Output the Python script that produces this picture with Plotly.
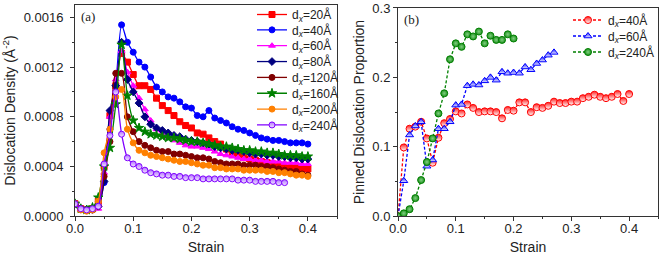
import plotly.graph_objects as go

# ---------------- data ----------------
strain = [0.00, 0.01, 0.02, 0.03, 0.04, 0.05, 0.06, 0.07, 0.08, 0.09,
          0.10, 0.11, 0.12, 0.13, 0.14, 0.15, 0.16, 0.17, 0.18, 0.19,
          0.20, 0.21, 0.22, 0.23, 0.24, 0.25, 0.26, 0.27, 0.28, 0.29,
          0.30, 0.31, 0.32, 0.33, 0.34, 0.35, 0.36, 0.37, 0.38, 0.39, 0.40]

# Panel (a): dislocation density (1/Å^2)
dens_20 = [0.0001, 0.00006, 0.00005, 0.00006, 0.00012, 0.0004, 0.00081, 0.00105, 0.00131, 0.00124,
           0.00114, 0.00105, 0.00105, 0.00102, 0.00095, 0.00089, 0.00085, 0.00081, 0.00076, 0.00073,
           0.00071, 0.00067, 0.00066, 0.00063, 0.00060, 0.00058, 0.00054, 0.00051, 0.00049, 0.00047,
           0.00046, 0.00045, 0.00044, 0.00043, 0.00042, 0.00041, 0.00041, 0.00040, 0.00039, 0.00038, 0.00038]
dens_40 = [0.0001, 0.00006, 0.00005, 0.00005, 0.00008, 0.00027, 0.0007, 0.00105, 0.00154, 0.0014,
           0.00132, 0.00124, 0.0012, 0.00112, 0.00104, 0.001, 0.00096, 0.00095, 0.00092, 0.00088,
           0.00087, 0.00081, 0.0008, 0.00085, 0.00079, 0.00077, 0.00075, 0.00072, 0.0007, 0.00069,
           0.00067, 0.00065, 0.00063, 0.00062, 0.00061, 0.00061, 0.0006, 0.00059, 0.00059, 0.00059, 0.00058]
dens_60 = [0.0001, 0.00006, 0.00005, 0.00005, 0.00006, 0.00035, 0.0008, 0.0011, 0.00133, 0.00116,
           0.00105, 0.00095, 0.00086, 0.00077, 0.0007, 0.00066, 0.00063, 0.00061, 0.00059, 0.00057,
           0.00056, 0.00056, 0.00055, 0.00054, 0.00052, 0.0005, 0.00049, 0.00048, 0.00047, 0.00046,
           0.00046, 0.00045, 0.00045, 0.00044, 0.00044, 0.00044, 0.00043, 0.00043, 0.00043, 0.00042, 0.00042]
dens_80 = [0.0001, 0.00006, 0.00005, 0.00006, 0.00008, 0.00028, 0.00085, 0.00105, 0.0014, 0.0011,
           0.001, 0.00091, 0.0008, 0.00074, 0.00071, 0.00069, 0.00067, 0.00065, 0.00064, 0.00062,
           0.00061, 0.0006, 0.00059, 0.00058, 0.00056, 0.00055, 0.00054, 0.00053, 0.00053, 0.00052,
           0.00051, 0.0005, 0.0005, 0.00049, 0.00049, 0.00048, 0.00048, 0.00047, 0.00047, 0.00046, 0.00046]
dens_120 = [0.0001, 0.00006, 0.00005, 0.00005, 0.00008, 0.00032, 0.0006, 0.00115, 0.00115, 0.0008,
            0.00068, 0.0006, 0.00057, 0.00055, 0.00053, 0.00052, 0.00052, 0.0005, 0.0005, 0.00049,
            0.00048, 0.00047, 0.00047, 0.00046, 0.00044, 0.00043, 0.00042, 0.00042, 0.00042, 0.00041,
            0.00041, 0.00041, 0.0004, 0.0004, 0.00039, 0.00038, 0.00037, 0.00036, 0.00036, 0.00034, 0.00033]
dens_160 = [0.0001, 0.00006, 0.00005, 0.00007, 0.00015, 0.0004, 0.00055, 0.0009, 0.00138, 0.00097,
            0.00077, 0.00071, 0.00068, 0.00066, 0.00065, 0.00064, 0.00063, 0.00063, 0.00062, 0.00061,
            0.0006, 0.0006, 0.00059, 0.00058, 0.00057, 0.00056, 0.00056, 0.00055, 0.00054, 0.00053,
            0.00053, 0.00052, 0.00052, 0.00051, 0.00051, 0.0005, 0.00049, 0.00049, 0.00049, 0.00048, 0.00048]
dens_200 = [0.0001, 0.00005, 0.00004, 0.00005, 0.00012, 0.00051, 0.0007, 0.00096, 0.00102, 0.0007,
            0.00059, 0.00053, 0.00051, 0.00049, 0.00048, 0.00047, 0.00046, 0.00045, 0.00044, 0.00044,
            0.00043, 0.00042, 0.00041, 0.00041, 0.00039, 0.00039, 0.00038, 0.00038, 0.00038, 0.00037,
            0.00037, 0.00037, 0.00037, 0.00036, 0.00036, 0.00035, 0.00035, 0.00034, 0.00033, 0.00033, 0.00032]
dens_240 = [0.0001, 0.00006, 0.00005, 0.00006, 0.00008, 0.00042, 0.00065, 0.001, 0.00066, 0.00047,
            0.00042, 0.0004, 0.00037, 0.00035, 0.00034, 0.00033, 0.00033, 0.00032, 0.00032, 0.00031,
            0.00031, 0.00031, 0.0003, 0.0003, 0.0003, 0.0003, 0.0003, 0.0003, 0.00029, 0.00029,
            0.00029, 0.00028, 0.00028, 0.00028, 0.00028, 0.00027, 0.00027]

# Panel (b): pinned dislocation proportion
pin_40 = [0.0, 0.099, 0.126, 0.129, 0.136, 0.112, 0.077, 0.113, 0.134, 0.14,
          0.151, 0.148, 0.161, 0.156, 0.15, 0.151, 0.151, 0.15, 0.141, 0.153,
          0.152, 0.164, 0.164, 0.15, 0.157, 0.156, 0.159, 0.165, 0.163, 0.163,
          0.165, 0.165, 0.17, 0.172, 0.175, 0.172, 0.17, 0.172, 0.176, 0.166, 0.176]
pin_60 = [0.0, 0.051, 0.117, 0.13, 0.136, 0.072, 0.081, 0.126, 0.126, 0.136,
          0.16, 0.161, 0.188, 0.19, 0.189, 0.195, 0.2, 0.196, 0.208, 0.206,
          0.207, 0.206, 0.215, 0.211, 0.22, 0.225, 0.232, 0.236]
pin_240 = [0.0, 0.004, 0.01, 0.026, 0.052, 0.078, 0.112, 0.148, 0.177, 0.226,
           0.249, 0.244, 0.262, 0.259, 0.266, 0.249, 0.26, 0.254, 0.254, 0.262, 0.256]

labels_a = ["20", "40", "60", "80", "120", "160", "200", "240"]
labels_b = ["40", "60", "240"]

# ---------------- styles ----------------
FONT = "Arial, 'Liberation Sans', sans-serif"
W, H = 661, 255

# (values, line colour, symbol, fill colour, gradient colour or None)
styles_a = [
    (dens_20, "#FF0000", "square", "#FF0000", None),
    (dens_40, "#0000FF", "circle", "#0000FF", None),
    (dens_60, "#FF00FF", "triangle-up", "#FF00FF", None),
    (dens_80, "#000080", "diamond", "#000080", None),
    (dens_120, "#800000", "circle", "#800000", None),
    (dens_160, "#008000", "star", "#008000", None),
    (dens_200, "#FF8000", "circle", "#FF8000", None),
    (dens_240, "#8000FF", "circle", "#B070FF", "#F4E8FF"),
]
styles_b = [
    (pin_40, "#FF0000", "circle", "#FF2020", "#FFFFFF"),
    (pin_60, "#0000FF", "triangle-up", "#2020FF", "#E8E8FF"),
    (pin_240, "#008000", "circle", "#1F8F1F", "#7FD07F"),
]

fig = go.Figure()
legends = {}

def legend_box(x_px, yc_px):
    return dict(x=x_px / W, y=1 - yc_px / H, xanchor="left", yanchor="middle",
                bgcolor="rgba(0,0,0,0)", font=dict(family=FONT, size=12, color="#222"),
                itemwidth=30)

def make_marker(sym, size, fill, col, grad, gtype="vertical"):
    m = dict(symbol=sym, size=size, color=fill, line=dict(color=col, width=1))
    if grad:
        m["gradient"] = dict(type=gtype, color=grad)
    return m

for i, (lab, (vals, col, sym, fill, grad)) in enumerate(zip(labels_a, styles_a)):
    lname = "legend" if i == 0 else f"legend{i + 1}"
    legends[lname] = legend_box(252, 14 + i * 15.85)
    fig.add_trace(go.Scatter(
        x=strain[:len(vals)], y=vals, mode="lines+markers",
        name=f"d<sub><i>x</i></sub>={lab}Å",
        line=dict(color=col, width=1.3, shape="spline", smoothing=0.7),
        marker=make_marker(sym, 7 if sym == "star" else 6, fill, col, grad),
        xaxis="x", yaxis="y", legend=lname,
    ))

for j, (lab, (vals, col, sym, fill, grad)) in enumerate(zip(labels_b, styles_b)):
    lname = f"legend{len(labels_a) + j + 1}"
    legends[lname] = legend_box(568, 20 + j * 16)
    fig.add_trace(go.Scatter(
        x=strain[:len(vals)], y=vals, mode="lines+markers",
        name=f"d<sub><i>x</i></sub>={lab}Å",
        line=dict(color=col, width=1.3, dash="3px,2px"),
        marker=make_marker(sym, 7, fill, col, grad, "radial" if j == 2 else "vertical"),
        xaxis="x2", yaxis="y2", legend=lname,
    ))

def xax(domain, anchor):
    return dict(domain=domain, anchor=anchor, range=[0, 0.45], dtick=0.1, tickformat=".1f",
                ticks="outside", ticklen=4, tickwidth=1, tickcolor="#333",
                minor=dict(dtick=0.05, ticks="outside", ticklen=2, tickcolor="#333"),
                showline=True, linecolor="#333", linewidth=1, mirror=True,
                showgrid=False, zeroline=False, automargin=False,
                ticklabelstandoff=-4,
                tickfont=dict(family=FONT, size=13, color="#222"),
                title=dict(text="Strain", font=dict(family=FONT, size=14, color="#222"), standoff=7))

def yax(domain, anchor, rng, dtick, fmt, title, minor, lso, tso):
    return dict(domain=domain, anchor=anchor, range=rng, dtick=dtick, tickformat=fmt,
                ticks="outside", ticklen=4, tickwidth=1, tickcolor="#333",
                minor=dict(dtick=minor, ticks="outside", ticklen=2, tickcolor="#333"),
                showline=True, linecolor="#333", linewidth=1, mirror=True,
                showgrid=False, zeroline=False, automargin=False,
                ticklabelstandoff=lso,
                tickfont=dict(family=FONT, size=13, color="#222"),
                title=dict(text=title, font=dict(family=FONT, size=14, color="#222"), standoff=tso))

fig.update_layout(
    width=W, height=H, margin=dict(l=0, r=0, t=0, b=0),
    paper_bgcolor="white", plot_bgcolor="white",
    xaxis=xax([75 / W, 337 / W], "y"),
    yaxis=yax([1 - 216 / H, 1 - 4 / H], "x", [0, 0.0017], 0.0004, ".4f",
              "Dislocation Density (Å<sup>-2</sup>)", 0.0002, 4, 4),
    xaxis2=xax([398 / W, 658 / W], "y2"),
    yaxis2=yax([1 - 216 / H, 1 - 7 / H], "x2", [0, 0.3], 0.1, ".1f",
               "Pinned Dislocation Proportion", 0.05, 0, 4),
    showlegend=True,
    annotations=[
        dict(text="(a)", x=79 / W, y=1 - 6 / H, xref="paper", yref="paper",
             xanchor="left", yanchor="top", showarrow=False,
             font=dict(family="'Times New Roman', 'Liberation Serif', serif", size=13, color="#222")),
        dict(text="(b)", x=402 / W, y=1 - 9 / H, xref="paper", yref="paper",
             xanchor="left", yanchor="top", showarrow=False,
             font=dict(family="'Times New Roman', 'Liberation Serif', serif", size=13, color="#222")),
    ],
    **legends,
)

fig.write_html("out.html", config={"displayModeBar": False},
               post_script="document.body.style.margin='0';")
